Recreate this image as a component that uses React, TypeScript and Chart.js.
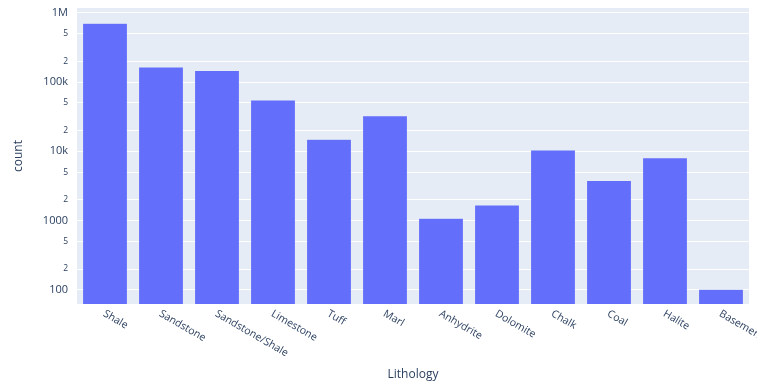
import React, { useEffect, useRef } from 'react';
import { Chart, registerables } from 'chart.js';

Chart.register(...registerables);

// Sample counts per lithology class
const lithologies = [
  'Shale', 'Sandstone', 'Sandstone/Shale', 'Limestone', 'Tuff', 'Marl',
  'Anhydrite', 'Dolomite', 'Chalk', 'Coal', 'Halite', 'Basement',
];
const counts = [703000, 164000, 147000, 55000, 14900, 32700, 1080, 1680, 10400, 3800, 8100, 102];

// Log axis ticks: decades plus 2 and 5 sub-ticks
const yTickValues = [100, 200, 500, 1000, 2000, 5000, 10000, 20000, 50000, 100000, 200000, 500000, 1000000];
const yTickLabels = ['100', '2', '5', '1000', '2', '5', '10k', '2', '5', '100k', '2', '5', '1M'];
const yRange = [62.5, 1170000];

const FONT = '"Open Sans", verdana, arial, sans-serif';
const TEXT = '#2a3f5f';

const plotBackground = {
  id: 'plotBackground',
  beforeDraw(chart: any) {
    const { ctx, chartArea: a } = chart;
    ctx.save();
    ctx.fillStyle = '#E5ECF6';
    ctx.fillRect(a.left, a.top, a.right - a.left, a.bottom - a.top);
    ctx.restore();
  },
};

// Category labels slanted down to the right, starting at each tick
const slantedLabels = {
  id: 'slantedLabels',
  afterDraw(chart: any) {
    const { ctx, chartArea } = chart;
    const xs = chart.scales.x;
    ctx.save();
    ctx.font = `10.5px ${FONT}`;
    ctx.fillStyle = TEXT;
    ctx.textAlign = 'left';
    ctx.textBaseline = 'middle';
    lithologies.forEach((name, i) => {
      const px = xs.getPixelForValue(i);
      ctx.save();
      ctx.translate(px - 1, chartArea.bottom + 9);
      ctx.rotate(Math.PI / 6);
      ctx.fillText(name, 0, 0);
      ctx.restore();
    });
    ctx.restore();
  },
};

export default function App() {
  const canvasRef = useRef<HTMLCanvasElement | null>(null);

  useEffect(() => {
    if (!canvasRef.current) return;
    const chart = new Chart(canvasRef.current, {
      type: 'bar',
      data: {
        labels: lithologies,
        datasets: [
          {
            label: 'count',
            data: counts,
            backgroundColor: '#636EFA',
            borderColor: '#E5ECF6',
            borderWidth: 0.5,
            barPercentage: 0.8,
            categoryPercentage: 1,
          },
        ],
      },
      options: {
        animation: false,
        responsive: true,
        maintainAspectRatio: false,
        layout: { padding: { left: 0, right: 8, top: 8, bottom: 0 } },
        plugins: {
          legend: { display: false },
          tooltip: { enabled: false },
        },
        scales: {
          x: {
            grid: { display: false },
            border: { display: false },
            ticks: { display: false },
            title: {
              display: true,
              text: 'Lithology',
              color: TEXT,
              font: { family: FONT, size: 12 },
              padding: { top: 0, bottom: 3 },
            },
            afterFit(scale: any) {
              scale.height = 81;
              scale.paddingLeft = 0;
              scale.paddingRight = 0;
            },
          },
          y: {
            type: 'logarithmic',
            min: yRange[0],
            max: yRange[1],
            grid: { color: '#ffffff', lineWidth: 1, drawTicks: false },
            border: { display: false },
            afterBuildTicks(scale: any) {
              scale.ticks = yTickValues.map((v, i) => ({ value: v, major: !['2', '5'].includes(yTickLabels[i]) }));
            },
            ticks: {
              autoSkip: false,
              padding: 9,
              color: TEXT,
              font: (ctx: any) => ({ family: FONT, size: ctx.tick && ctx.tick.major ? 11 : 8.5 }),
              callback: (_v: any, i: number) => yTickLabels[i],
            },
            title: {
              display: true,
              text: 'count',
              color: TEXT,
              font: { family: FONT, size: 12 },
              padding: { top: 11, bottom: 0 },
            },
            afterFit(scale: any) {
              scale.width = 77;
              scale.paddingTop = 0;
              scale.paddingBottom = 0;
            },
          },
        },
      },
      plugins: [plotBackground, slantedLabels],
    });
    return () => chart.destroy();
  }, []);

  return (
    <div style={{ position: 'fixed', left: 0, top: 0, width: 757, height: 385, background: '#fff' }}>
      <canvas ref={canvasRef} />
    </div>
  );
}
